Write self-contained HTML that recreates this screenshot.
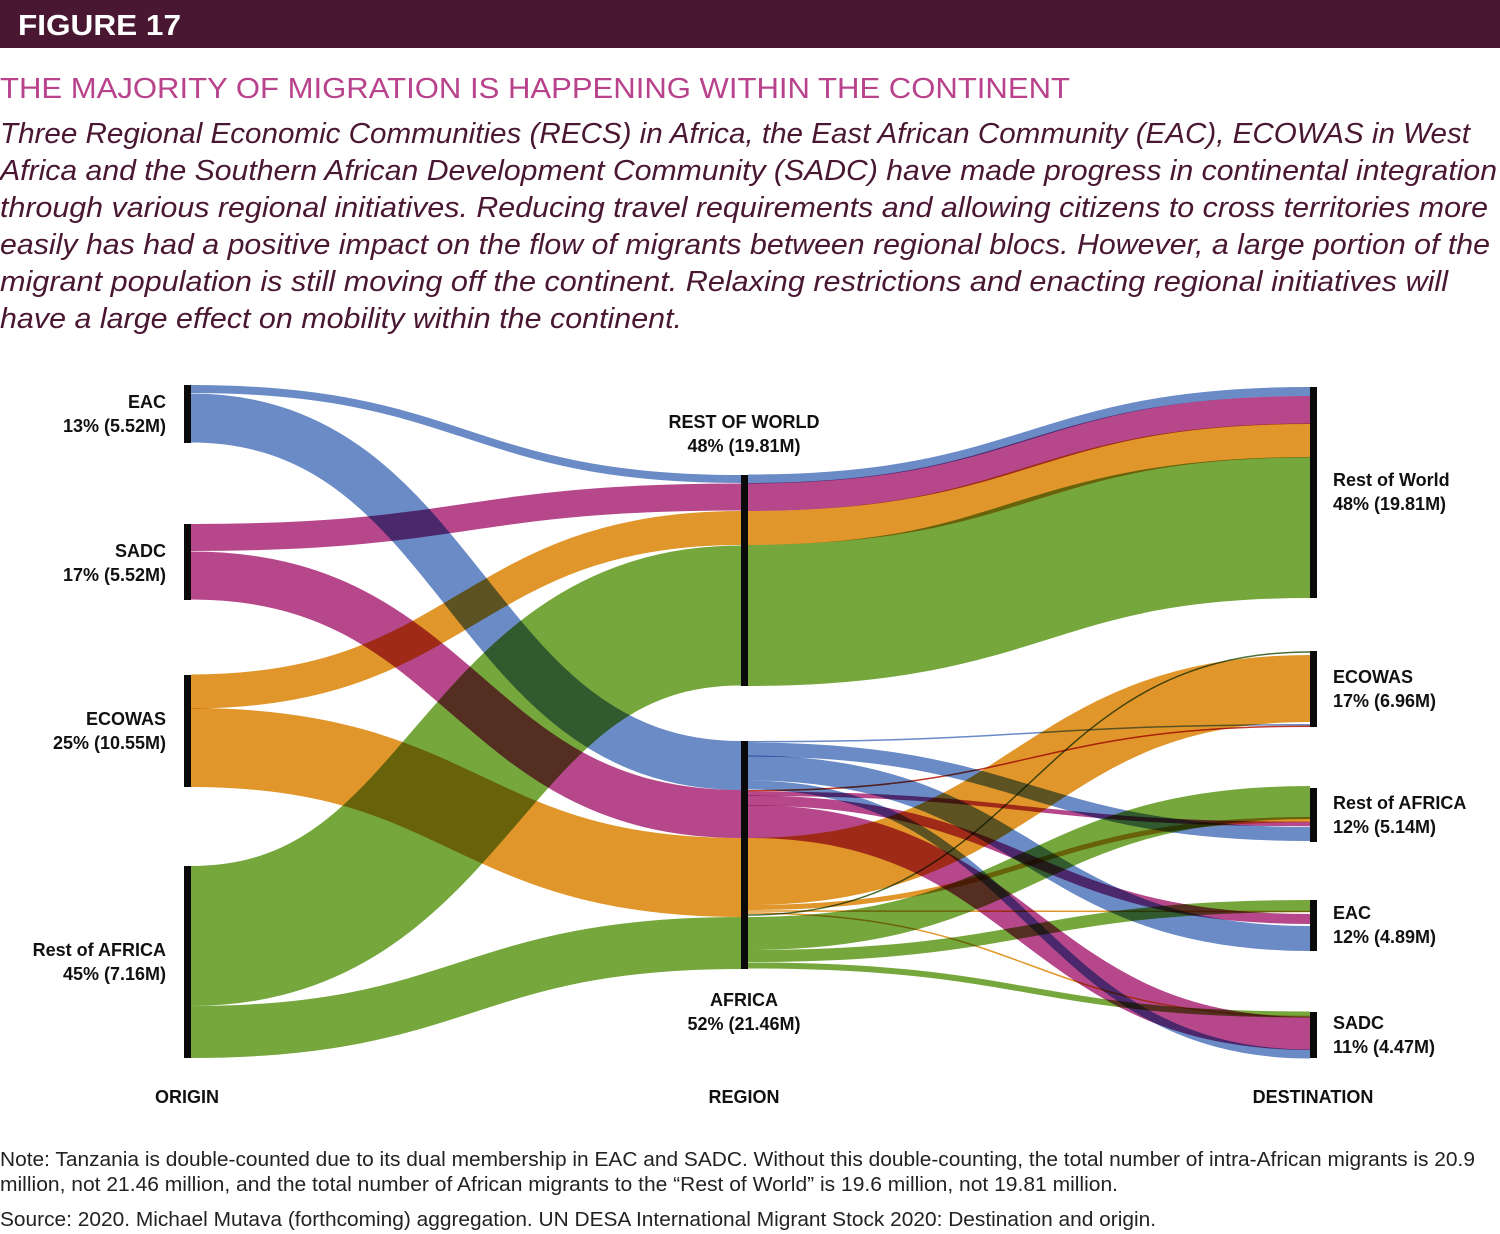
<!DOCTYPE html>
<html><head><meta charset="utf-8"><style>
html,body{margin:0;padding:0;background:#fff;}
svg{display:block}
.lb{font-family:"Liberation Sans",sans-serif;font-weight:bold;font-size:18px;fill:#111}
.k path{fill:none;mix-blend-mode:multiply}
</style></head><body>
<svg width="1500" height="1234" viewBox="0 0 1500 1234" xmlns="http://www.w3.org/2000/svg">
<rect x="0" y="0" width="1500" height="48" fill="#4a1733"/>
<text x="18" y="35" fill="#fff" font-family="Liberation Sans,sans-serif" font-weight="bold" font-size="29" textLength="163" lengthAdjust="spacingAndGlyphs">FIGURE 17</text>
<text x="0" y="98" fill="#b8438c" font-family="Liberation Sans,sans-serif" font-size="29" textLength="1070" lengthAdjust="spacingAndGlyphs">THE MAJORITY OF MIGRATION IS HAPPENING WITHIN THE CONTINENT</text>
<g fill="#4a1733" font-family="Liberation Sans,sans-serif" font-style="italic" font-size="29">
<text x="0" y="143" textLength="1470" lengthAdjust="spacingAndGlyphs">Three Regional Economic Communities (RECS) in Africa, the East African Community (EAC), ECOWAS in West</text>
<text x="0" y="180" textLength="1497" lengthAdjust="spacingAndGlyphs">Africa and the Southern African Development Community (SADC) have made progress in continental integration</text>
<text x="0" y="217" textLength="1488" lengthAdjust="spacingAndGlyphs">through various regional initiatives. Reducing travel requirements and allowing citizens to cross territories more</text>
<text x="0" y="254" textLength="1490" lengthAdjust="spacingAndGlyphs">easily has had a positive impact on the flow of migrants between regional blocs. However, a large portion of the</text>
<text x="0" y="291" textLength="1448" lengthAdjust="spacingAndGlyphs">migrant population is still moving off the continent. Relaxing restrictions and enacting regional initiatives will</text>
<text x="0" y="328" textLength="682" lengthAdjust="spacingAndGlyphs">have a large effect on mobility within the continent.</text>
</g>

<g class="k">
<!-- left to mid -->
<path stroke="#6a8bc6" stroke-width="8" d="M191 389 C466 389 466 479 741 479"/>
<path stroke="#6a8bc6" stroke-width="49" d="M191 418 C466 418 466 765.5 741 765.5"/>
<path stroke="#b5478a" stroke-width="27" d="M191 537.5 C466 537.5 466 497 741 497"/>
<path stroke="#b5478a" stroke-width="48" d="M191 575.5 C466 575.5 466 814 741 814"/>
<path stroke="#e0962a" stroke-width="34" d="M191 691.5 C466 691.5 466 528 741 528"/>
<path stroke="#e0962a" stroke-width="79" d="M191 747.5 C466 747.5 466 877.5 741 877.5"/>
<path stroke="#76a73c" stroke-width="140" d="M191 936 C466 936 466 615.5 741 615.5"/>
<path stroke="#76a73c" stroke-width="52" d="M191 1032 C466 1032 466 943 741 943"/>
<!-- RoW to right -->
<path stroke="#6a8bc6" stroke-width="9" d="M748 479 C1029 479 1029 391.5 1310 391.5"/>
<path stroke="#b5478a" stroke-width="28" d="M748 497 C1029 497 1029 410 1310 410"/>
<path stroke="#e0962a" stroke-width="34" d="M748 528 C1029 528 1029 440.5 1310 440.5"/>
<path stroke="#76a73c" stroke-width="141" d="M748 615.5 C1029 615.5 1029 527.5 1310 527.5"/>
<!-- Africa to right -->
<path stroke="#6a8bc6" stroke-width="1.5" d="M748 741.7 C1029 741.7 1029 724.7 1310 724.7"/>
<path stroke="#6a8bc6" stroke-width="14" d="M748 749.5 C1029 749.5 1029 834 1310 834"/>
<path stroke="#6a8bc6" stroke-width="25" d="M748 768 C1029 768 1029 938.5 1310 938.5"/>
<path stroke="#6a8bc6" stroke-width="9" d="M748 785 C1029 785 1029 1054 1310 1054"/>
<path stroke="#c0392b" stroke-width="1.5" d="M748 790.7 C1029 790.7 1029 726.2 1310 726.2"/>
<path stroke="#b5478a" stroke-width="4.5" d="M748 793.7 C1029 793.7 1029 824 1310 824"/>
<path stroke="#b5478a" stroke-width="10" d="M748 800.5 C1029 800.5 1029 919 1310 919"/>
<path stroke="#b5478a" stroke-width="33" d="M748 821.5 C1029 821.5 1029 1033.5 1310 1033.5"/>
<path stroke="#e0962a" stroke-width="67" d="M748 871.5 C1029 871.5 1029 688.5 1310 688.5"/>
<path stroke="#e0962a" stroke-width="5" d="M748 907.5 C1029 907.5 1029 819.5 1310 819.5"/>
<path stroke="#e0962a" stroke-width="1.5" d="M748 911 C1029 911 1029 911.5 1310 911.5"/>
<path stroke="#e0962a" stroke-width="1.5" d="M748 913 C1029 913 1029 1016.5 1310 1016.5"/>
<path stroke="#4a6e35" stroke-width="1.5" d="M748 915 C1029 915 1029 652 1310 652"/>
<path stroke="#76a73c" stroke-width="33" d="M748 933.5 C1029 933.5 1029 802.5 1310 802.5"/>
<path stroke="#76a73c" stroke-width="12" d="M748 956 C1029 956 1029 906 1310 906"/>
<path stroke="#76a73c" stroke-width="6" d="M748 965.5 C1029 965.5 1029 1014.5 1310 1014.5"/>
</g>

<!-- node bars -->
<g fill="#0a0a0a">
<rect x="184" y="385" width="7" height="58"/>
<rect x="184" y="524" width="7" height="76"/>
<rect x="184" y="675" width="7" height="112"/>
<rect x="184" y="866" width="7" height="192"/>
<rect x="741" y="475" width="7" height="211"/>
<rect x="741" y="741" width="7" height="228"/>
<rect x="1310" y="387" width="7" height="211"/>
<rect x="1310" y="651" width="7" height="76"/>
<rect x="1310" y="788" width="7" height="54"/>
<rect x="1310" y="900" width="7" height="51"/>
<rect x="1310" y="1012" width="7" height="46"/>
</g>

<g class="lb" text-anchor="end">
<text x="166" y="408">EAC</text><text x="166" y="432">13% (5.52M)</text>
<text x="166" y="557">SADC</text><text x="166" y="581">17% (5.52M)</text>
<text x="166" y="725">ECOWAS</text><text x="166" y="749">25% (10.55M)</text>
<text x="166" y="956">Rest of AFRICA</text><text x="166" y="980">45% (7.16M)</text>
</g>
<g class="lb" text-anchor="middle">
<text x="744" y="428">REST OF WORLD</text><text x="744" y="452">48% (19.81M)</text>
<text x="744" y="1006">AFRICA</text><text x="744" y="1030">52% (21.46M)</text>
<text x="187" y="1103">ORIGIN</text><text x="744" y="1103">REGION</text><text x="1313" y="1103">DESTINATION</text>
</g>
<g class="lb">
<text x="1333" y="486">Rest of World</text><text x="1333" y="510">48% (19.81M)</text>
<text x="1333" y="683">ECOWAS</text><text x="1333" y="707">17% (6.96M)</text>
<text x="1333" y="809">Rest of AFRICA</text><text x="1333" y="833">12% (5.14M)</text>
<text x="1333" y="919">EAC</text><text x="1333" y="943">12% (4.89M)</text>
<text x="1333" y="1029">SADC</text><text x="1333" y="1053">11% (4.47M)</text>
</g>

<g fill="#222" font-family="Liberation Sans,sans-serif" font-size="20">
<text x="0" y="1166" textLength="1475" lengthAdjust="spacingAndGlyphs">Note: Tanzania is double-counted due to its dual membership in EAC and SADC. Without this double-counting, the total number of intra-African migrants is 20.9</text>
<text x="0" y="1191" textLength="1118" lengthAdjust="spacingAndGlyphs">million, not 21.46 million, and the total number of African migrants to the “Rest of World” is 19.6 million, not 19.81 million.</text>
<text x="0" y="1226" textLength="1156" lengthAdjust="spacingAndGlyphs">Source: 2020. Michael Mutava (forthcoming) aggregation. UN DESA International Migrant Stock 2020: Destination and origin.</text>
</g>
</svg>
</body></html>
